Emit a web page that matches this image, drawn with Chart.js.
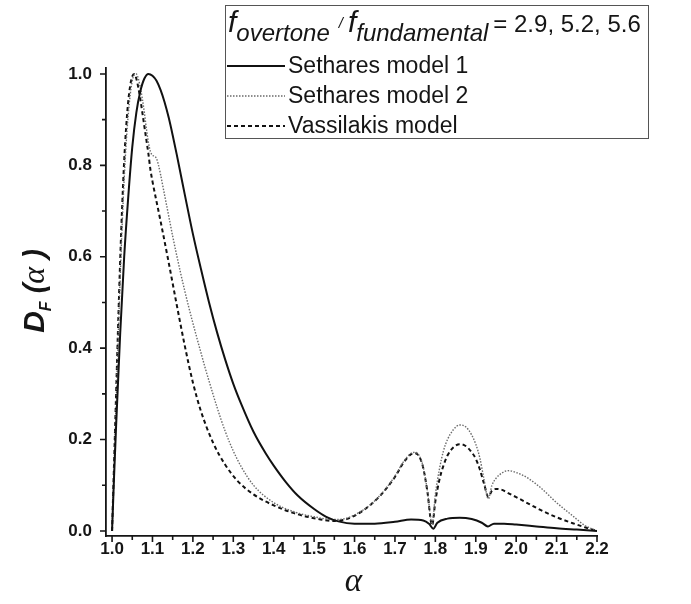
<!DOCTYPE html>
<html>
<head>
<meta charset="utf-8">
<title>Dissonance curves</title>
<script src="https://cdn.jsdelivr.net/npm/chart.js@4.4.0/dist/chart.umd.min.js"></script>
<style>
  html, body { margin: 0; padding: 0; background: #fff; }
  #wrap { width: 691px; height: 604px; }
</style>
</head>
<body>
<div id="wrap"><canvas id="dfChart" width="691" height="604"></canvas></div>
<script>
const seriesNames = ['Sethares model 1', 'Sethares model 2', 'Vassilakis model'];
const ratioValues = '= 2.9, 5.2, 5.6';

const alphaTicks = [1.0, 1.1, 1.2, 1.3, 1.4, 1.5, 1.6, 1.7, 1.8, 1.9, 2.0, 2.1, 2.2];
const dfTicks = [0.0, 0.2, 0.4, 0.6, 0.8, 1.0];

// Sethares model 1
const sethares1Alpha = [1.0, 1.005, 1.01, 1.02, 1.03, 1.04, 1.05, 1.06, 1.07, 1.08,
  1.09, 1.10, 1.11, 1.12, 1.13, 1.14, 1.15, 1.16, 1.17, 1.18,
  1.20, 1.22, 1.24, 1.26, 1.28, 1.30, 1.32, 1.35, 1.38, 1.40,
  1.43, 1.46, 1.50, 1.53, 1.56, 1.60, 1.65, 1.70, 1.74, 1.77,
  1.785, 1.795, 1.805, 1.83, 1.86, 1.89, 1.915, 1.93, 1.945, 1.97,
  2.0, 2.05, 2.1, 2.15, 2.2];
const sethares1DF = [0, 0.12, 0.23, 0.43, 0.60, 0.73, 0.84, 0.915, 0.962, 0.99,
  1.0, 0.996, 0.985, 0.965, 0.938, 0.905, 0.866, 0.824, 0.78, 0.736,
  0.65, 0.573, 0.5, 0.434, 0.375, 0.322, 0.277, 0.217, 0.17, 0.143,
  0.107, 0.077, 0.048, 0.031, 0.021, 0.016, 0.016, 0.02, 0.025, 0.023,
  0.015, 0.005, 0.018, 0.027, 0.029, 0.026, 0.018, 0.01, 0.016, 0.016,
  0.014, 0.01, 0.006, 0.003, 0];

// Sethares model 2
const sethares2Alpha = [1.0, 1.005, 1.01, 1.015, 1.02, 1.025, 1.03, 1.035, 1.04, 1.045,
  1.05, 1.055, 1.06, 1.065, 1.07, 1.075, 1.08, 1.085, 1.09, 1.095,
  1.10, 1.105, 1.11, 1.115, 1.12, 1.13, 1.14, 1.15, 1.16, 1.17,
  1.18, 1.19, 1.20, 1.21, 1.22, 1.23, 1.24, 1.26, 1.28, 1.30,
  1.32, 1.35, 1.40, 1.45, 1.50, 1.55, 1.58, 1.62, 1.66, 1.70,
  1.72, 1.74, 1.75, 1.76, 1.77, 1.78, 1.792, 1.80, 1.81, 1.82,
  1.83, 1.845, 1.86, 1.875, 1.89, 1.90, 1.91, 1.92, 1.931, 1.94,
  1.95, 1.965, 1.98, 2.0, 2.03, 2.06, 2.1, 2.14, 2.17, 2.2];
const sethares2DF = [0, 0.14, 0.28, 0.42, 0.55, 0.67, 0.77, 0.85, 0.91, 0.955,
  0.985, 0.998, 1.0, 0.99, 0.97, 0.945, 0.915, 0.88, 0.85, 0.83,
  0.822, 0.82, 0.815, 0.80, 0.78, 0.735, 0.69, 0.645, 0.603, 0.563,
  0.525, 0.489, 0.455, 0.422, 0.39, 0.358, 0.328, 0.27, 0.218, 0.175,
  0.14, 0.10, 0.062, 0.042, 0.031, 0.025, 0.028, 0.045, 0.075, 0.12,
  0.15, 0.17, 0.172, 0.165, 0.14, 0.09, 0.015, 0.08, 0.135, 0.175,
  0.2, 0.222, 0.232, 0.228, 0.21, 0.19, 0.16, 0.115, 0.07, 0.1,
  0.115, 0.127, 0.132, 0.128, 0.115, 0.095, 0.062, 0.033, 0.012, 0];

// Vassilakis model
const vassilakisAlpha = [1.0, 1.005, 1.01, 1.015, 1.02, 1.025, 1.03, 1.035, 1.04, 1.045,
  1.05, 1.055, 1.06, 1.065, 1.07, 1.075, 1.08, 1.085, 1.09, 1.095,
  1.10, 1.12, 1.14, 1.16, 1.18, 1.20, 1.22, 1.25, 1.28, 1.31,
  1.35, 1.40, 1.45, 1.50, 1.55, 1.58, 1.62, 1.66, 1.70, 1.72,
  1.74, 1.75, 1.76, 1.77, 1.78, 1.792, 1.80, 1.81, 1.82, 1.83,
  1.845, 1.86, 1.875, 1.89, 1.90, 1.91, 1.92, 1.931, 1.94, 1.95,
  1.965, 1.98, 2.0, 2.03, 2.06, 2.1, 2.14, 2.17, 2.2];
const vassilakisDF = [0, 0.15, 0.30, 0.45, 0.59, 0.71, 0.81, 0.885, 0.94, 0.975,
  0.995, 1.0, 0.99, 0.97, 0.945, 0.915, 0.885, 0.855, 0.825, 0.79,
  0.765, 0.678, 0.588, 0.495, 0.405, 0.325, 0.262, 0.193, 0.145, 0.11,
  0.08, 0.056, 0.039, 0.028, 0.022, 0.026, 0.044, 0.074, 0.118, 0.148,
  0.168, 0.17, 0.163, 0.138, 0.088, 0.012, 0.065, 0.112, 0.143, 0.165,
  0.183, 0.19, 0.186, 0.172, 0.158, 0.135, 0.105, 0.075, 0.088, 0.092,
  0.09, 0.083, 0.074, 0.06, 0.046, 0.03, 0.017, 0.008, 0];

const SANS = '"Liberation Sans", Arial, sans-serif';
const SERIF = '"Liberation Serif", "Times New Roman", serif';
const INK = '#151515';

function toPoints(xs, ys) {
  return xs.map((x, i) => ({ x: x, y: ys[i] }));
}

function midpoints(ticks) {
  const out = [];
  for (let i = 0; i < ticks.length - 1; i++) out.push((ticks[i] + ticks[i + 1]) / 2);
  return out;
}

// tick marks (major + minor), axis titles and the boxed legend
const decorations = {
  id: 'decorations',
  afterDraw(chart) {
    const ctx = chart.ctx;
    const xs = chart.scales.x;
    const ys = chart.scales.y;
    const area = chart.chartArea;

    ctx.save();
    ctx.strokeStyle = INK;
    ctx.lineWidth = 1.6;
    ctx.beginPath();
    alphaTicks.forEach(v => { const p = xs.getPixelForValue(v); ctx.moveTo(p, area.bottom); ctx.lineTo(p, area.bottom + 6); });
    midpoints(alphaTicks).forEach(v => { const p = xs.getPixelForValue(v); ctx.moveTo(p, area.bottom); ctx.lineTo(p, area.bottom + 4); });
    dfTicks.forEach(v => { const p = ys.getPixelForValue(v); ctx.moveTo(area.left, p); ctx.lineTo(area.left - 6, p); });
    midpoints(dfTicks).forEach(v => { const p = ys.getPixelForValue(v); ctx.moveTo(area.left, p); ctx.lineTo(area.left - 4, p); });
    ctx.stroke();

    // x title
    ctx.fillStyle = INK;
    ctx.textAlign = 'center';
    ctx.textBaseline = 'alphabetic';
    ctx.font = 'italic 33px ' + SERIF;
    ctx.fillText('α', (area.left + area.right) / 2 + 2, 591);

    // y title: D_F(α), rotated
    const parts = [
      { t: 'D', font: 'italic bold 30px ' + SANS, dy: 0 },
      { t: 'F', font: 'italic bold 16px ' + SANS, dy: 7 },
      { t: ' (', font: 'italic bold 29px ' + SANS, dy: 0 },
      { t: 'α', font: 'italic 32px ' + SERIF, dy: 0 },
      { t: ' )', font: 'italic bold 29px ' + SANS, dy: 0 }
    ];
    let total = 0;
    parts.forEach(p => { ctx.font = p.font; p.w = ctx.measureText(p.t).width; total += p.w; });
    ctx.translate(44, 291);
    ctx.rotate(-Math.PI / 2);
    ctx.textAlign = 'left';
    let cx = -total / 2;
    parts.forEach(p => {
      ctx.font = p.font;
      ctx.fillText(p.t, cx, p.dy);
      cx += p.w;
    });
    ctx.setTransform(1, 0, 0, 1, 0, 0);

    // legend box
    ctx.strokeStyle = '#555';
    ctx.lineWidth = 1;
    ctx.strokeRect(225.5, 5.5, 423, 133);

    ctx.textAlign = 'left';
    let lx = 228;
    ctx.font = 'italic 30px ' + SANS;
    ctx.fillText('f', lx, 32);
    lx += ctx.measureText('f').width;
    ctx.font = 'italic 24px ' + SANS;
    ctx.fillText('overtone', lx, 41);
    lx += ctx.measureText('overtone').width + 9;
    ctx.font = 'italic 15px ' + SANS;
    ctx.fillText('/', lx, 28);
    lx += ctx.measureText('/').width + 5;
    ctx.font = 'italic 30px ' + SANS;
    ctx.fillText('f', lx, 32);
    lx += ctx.measureText('f').width;
    ctx.font = 'italic 24px ' + SANS;
    ctx.fillText('fundamental', lx, 41);
    lx += ctx.measureText('fundamental').width + 5;
    ctx.font = '24px ' + SANS;
    ctx.fillText(ratioValues, lx, 32);

    const rows = [66, 96, 126];
    chart.data.datasets.forEach((ds, i) => {
      ctx.strokeStyle = ds.borderColor;
      ctx.lineWidth = ds.borderWidth;
      ctx.setLineDash(ds.borderDash || []);
      ctx.beginPath();
      ctx.moveTo(227, rows[i]);
      ctx.lineTo(285, rows[i]);
      ctx.stroke();
      ctx.setLineDash([]);
      ctx.fillStyle = INK;
      ctx.font = '23px ' + SANS;
      ctx.textBaseline = 'middle';
      ctx.fillText(ds.label, 288, rows[i] + 1);
    });
    ctx.restore();
  }
};

const lineStyle = {
  pointRadius: 0,
  fill: false,
  cubicInterpolationMode: 'monotone'
};

new Chart(document.getElementById('dfChart').getContext('2d'), {
  type: 'line',
  data: {
    datasets: [
      Object.assign({ label: seriesNames[0], data: toPoints(sethares1Alpha, sethares1DF),
        borderColor: '#111', borderWidth: 2 }, lineStyle),
      Object.assign({ label: seriesNames[1], data: toPoints(sethares2Alpha, sethares2DF),
        borderColor: '#6a6a6a', borderWidth: 1.4, borderDash: [1.5, 1.5] }, lineStyle),
      Object.assign({ label: seriesNames[2], data: toPoints(vassilakisAlpha, vassilakisDF),
        borderColor: '#111', borderWidth: 2, borderDash: [4, 3] }, lineStyle)
    ]
  },
  options: {
    responsive: false,
    animation: false,
    devicePixelRatio: 1,
    layout: { padding: { left: 0, top: 68, right: 94, bottom: 0 } },
    plugins: { legend: { display: false }, tooltip: { enabled: false } },
    scales: {
      x: {
        type: 'linear',
        min: 0.985,
        max: 2.2,
        afterBuildTicks: s => { s.ticks = alphaTicks.map(v => ({ value: v })); },
        afterFit: s => { s.height = 68; },
        grid: { display: false, drawTicks: false },
        border: { display: true, color: INK, width: 1.8 },
        ticks: {
          autoSkip: false, maxRotation: 0, padding: 3, color: INK,
          font: { family: SANS, size: 17, weight: 'bold' },
          callback: v => Number(v).toFixed(1)
        }
      },
      y: {
        min: -0.011,
        max: 1.013,
        afterBuildTicks: s => { s.ticks = dfTicks.map(v => ({ value: v })); },
        afterFit: s => { s.width = 106; },
        grid: { display: false, drawTicks: false },
        border: { display: true, color: INK, width: 1.8 },
        ticks: {
          padding: 14, color: INK,
          font: { family: SANS, size: 17, weight: 'bold' },
          callback: v => Number(v).toFixed(1)
        }
      }
    }
  },
  plugins: [decorations]
});
</script>
</body>
</html>
